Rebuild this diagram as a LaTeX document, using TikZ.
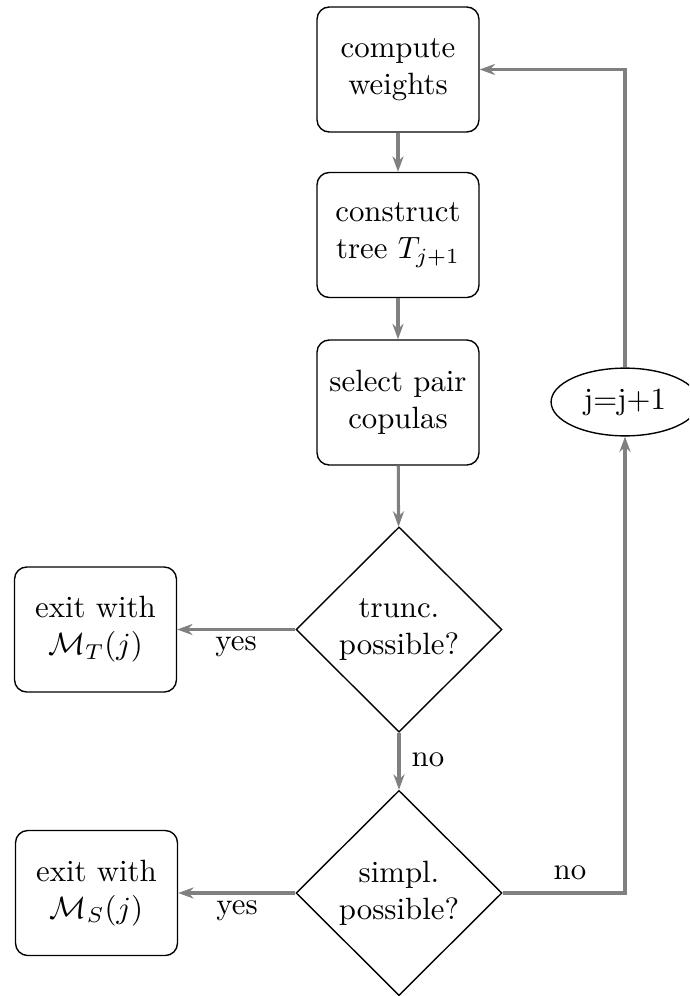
\documentclass[tikz,border=0pt]{standalone}
\usetikzlibrary{shapes.geometric,arrows.meta}
\begin{document}
\begin{tikzpicture}[x=0.3247pt,y=-0.3247pt,
  box/.style={draw,rounded corners=4pt,align=center,minimum width=52.6pt,minimum height=40.6pt,inner sep=1pt,line width=0.45pt},
  decide/.style={draw,diamond,align=center,inner sep=0pt,minimum width=66.9pt,minimum height=66.6pt,line width=0.45pt},
  loopnode/.style={draw,ellipse,inner sep=0pt,minimum width=48pt,minimum height=22pt,line width=0.45pt},
  flow/.style={draw=gray,line width=1pt,-{Stealth[length=5pt,width=3.6pt]}},
  lbl/.style={inner sep=0pt}]
\clip (0,0) rectangle (689,996);
\node[box] (c1) at (398,69.5) {compute\\weights};
\node[box] (c2) at (398,235) {construct\\tree $T_{j+1}$};
\node[box] (c3) at (398,402.5) {select pair\\copulas};
\node[decide] (d1) at (399,629.5) {trunc.\\possible?};
\node[decide] (d2) at (399,893) {simpl.\\possible?};
\node[box] (e1) at (95.5,629.5) {exit with\\$\mathcal{M}_T(j)$};
\node[box] (e2) at (96.5,893) {exit with\\$\mathcal{M}_S(j)$};
\node[loopnode] (inc) at (625,402) {j=j+1};
\draw[flow] (c1) -- (c2);
\draw[flow] (c2) -- (c3);
\draw[flow] (c3) -- (d1);
\draw[flow] (d1.west) -- (e1.east);
\draw[flow] (d1.south) -- (d2.north);
\draw[flow] (d2.west) -- (e2.east);
\draw[flow] (d2.east) -| (inc.south);
\draw[flow] (inc.north) |- (c1.east);
\node[lbl] (y1) at (236,647) {yes};
\node[lbl] (y2) at (237,911) {yes};
\node[lbl] (n1) at (428,760) {no};
\node[lbl] (n2) at (570,873) {no};
\end{tikzpicture}
\end{document}
